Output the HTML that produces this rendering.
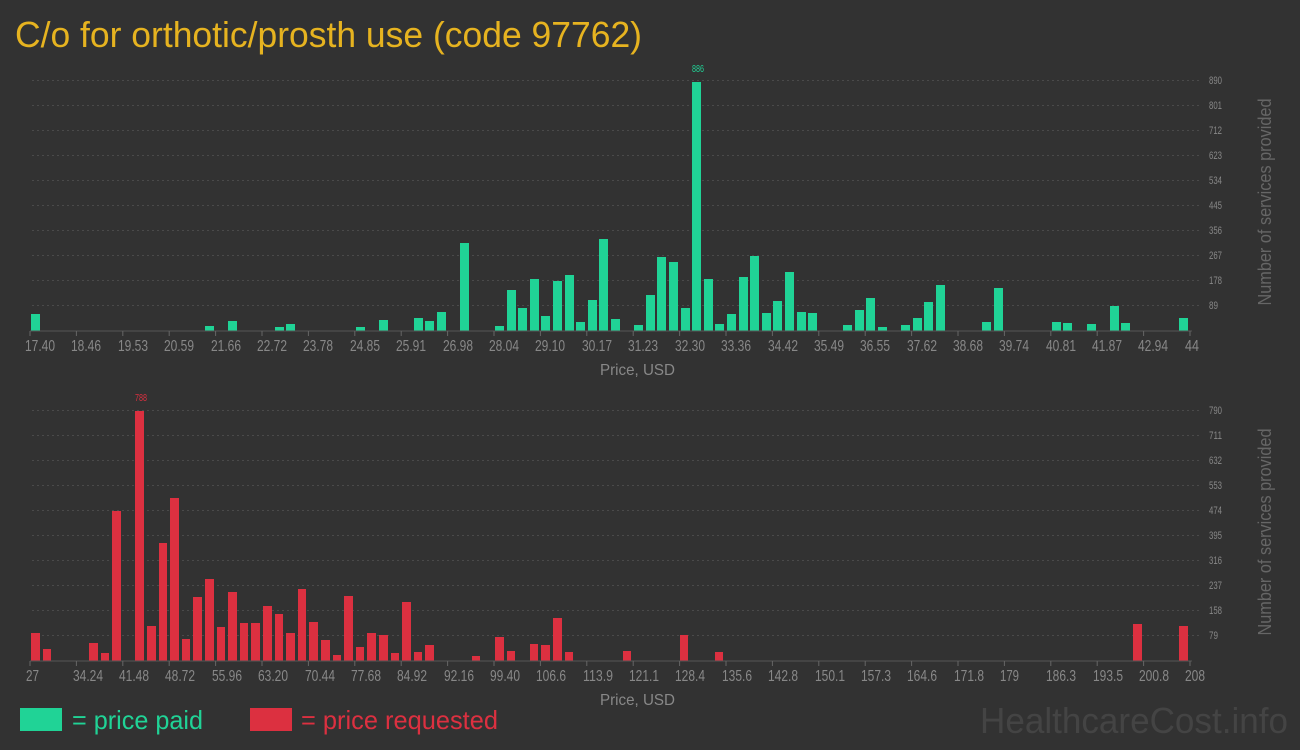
<!DOCTYPE html>
<html><head><meta charset="utf-8"><style>
html,body{margin:0;padding:0;background:#323232;}
svg{display:block;font-family:"Liberation Sans Narrow","Liberation Sans",sans-serif;}
</style></head><body>
<svg width="1300" height="750" viewBox="0 0 1300 750" xmlns="http://www.w3.org/2000/svg">
<rect width="1300" height="750" fill="#323232"/>
<text x="15" y="47" font-size="36" fill="#e6b320" textLength="627" lengthAdjust="spacingAndGlyphs">C/o for orthotic/prosth use (code 97762)</text>

<!-- TOP CHART -->
<g stroke="#4a4a4a" stroke-dasharray="2,3" stroke-width="1">
<line x1="32" x2="1200" y1="80.5" y2="80.5"/><line x1="32" x2="1200" y1="105.5" y2="105.5"/><line x1="32" x2="1200" y1="130.5" y2="130.5"/><line x1="32" x2="1200" y1="155.5" y2="155.5"/><line x1="32" x2="1200" y1="180.5" y2="180.5"/><line x1="32" x2="1200" y1="205.5" y2="205.5"/><line x1="32" x2="1200" y1="230.5" y2="230.5"/><line x1="32" x2="1200" y1="255.5" y2="255.5"/><line x1="32" x2="1200" y1="280.5" y2="280.5"/><line x1="32" x2="1200" y1="305.5" y2="305.5"/>
</g>
<g fill="#888" font-size="11">
<text x="1209" y="84" textLength="13" lengthAdjust="spacingAndGlyphs">890</text><text x="1209" y="109" textLength="13" lengthAdjust="spacingAndGlyphs">801</text><text x="1209" y="134" textLength="13" lengthAdjust="spacingAndGlyphs">712</text><text x="1209" y="159" textLength="13" lengthAdjust="spacingAndGlyphs">623</text><text x="1209" y="184" textLength="13" lengthAdjust="spacingAndGlyphs">534</text><text x="1209" y="209" textLength="13" lengthAdjust="spacingAndGlyphs">445</text><text x="1209" y="234" textLength="13" lengthAdjust="spacingAndGlyphs">356</text><text x="1209" y="259" textLength="13" lengthAdjust="spacingAndGlyphs">267</text><text x="1209" y="284" textLength="13" lengthAdjust="spacingAndGlyphs">178</text><text x="1209" y="309" textLength="9" lengthAdjust="spacingAndGlyphs">89</text>
</g>
<g fill="#20d396">
<rect x="31" y="314" width="9" height="17"/><rect x="205" y="326" width="9" height="5"/><rect x="228" y="321" width="9" height="10"/><rect x="275" y="327" width="9" height="4"/><rect x="286" y="324" width="9" height="7"/><rect x="356" y="327" width="9" height="4"/><rect x="379" y="320" width="9" height="11"/><rect x="414" y="318" width="9" height="13"/><rect x="425" y="321" width="9" height="10"/><rect x="437" y="312" width="9" height="19"/><rect x="460" y="243" width="9" height="88"/><rect x="495" y="326" width="9" height="5"/><rect x="507" y="290" width="9" height="41"/><rect x="518" y="308" width="9" height="23"/><rect x="530" y="279" width="9" height="52"/><rect x="541" y="316" width="9" height="15"/><rect x="553" y="281" width="9" height="50"/><rect x="565" y="275" width="9" height="56"/><rect x="576" y="322" width="9" height="9"/><rect x="588" y="300" width="9" height="31"/><rect x="599" y="239" width="9" height="92"/><rect x="611" y="319" width="9" height="12"/><rect x="634" y="325" width="9" height="6"/><rect x="646" y="295" width="9" height="36"/><rect x="657" y="257" width="9" height="74"/><rect x="669" y="262" width="9" height="69"/><rect x="681" y="308" width="9" height="23"/><rect x="692" y="82" width="9" height="249"/><rect x="704" y="279" width="9" height="52"/><rect x="715" y="324" width="9" height="7"/><rect x="727" y="314" width="9" height="17"/><rect x="739" y="277" width="9" height="54"/><rect x="750" y="256" width="9" height="75"/><rect x="762" y="313" width="9" height="18"/><rect x="773" y="301" width="9" height="30"/><rect x="785" y="272" width="9" height="59"/><rect x="797" y="312" width="9" height="19"/><rect x="808" y="313" width="9" height="18"/><rect x="843" y="325" width="9" height="6"/><rect x="855" y="310" width="9" height="21"/><rect x="866" y="298" width="9" height="33"/><rect x="878" y="327" width="9" height="4"/><rect x="901" y="325" width="9" height="6"/><rect x="913" y="318" width="9" height="13"/><rect x="924" y="302" width="9" height="29"/><rect x="936" y="285" width="9" height="46"/><rect x="982" y="322" width="9" height="9"/><rect x="994" y="288" width="9" height="43"/><rect x="1052" y="322" width="9" height="9"/><rect x="1063" y="323" width="9" height="8"/><rect x="1087" y="324" width="9" height="7"/><rect x="1110" y="306" width="9" height="25"/><rect x="1121" y="323" width="9" height="8"/><rect x="1179" y="318" width="9" height="13"/>
</g>
<text x="698" y="72" font-size="10" fill="#20d396" text-anchor="middle" textLength="12" lengthAdjust="spacingAndGlyphs">886</text>
<line x1="30" x2="1192" y1="331" y2="331" stroke="#555"/>
<g stroke="#666"><line x1="30" x2="30" y1="331" y2="336"/><line x1="76.4" x2="76.4" y1="331" y2="336"/><line x1="122.8" x2="122.8" y1="331" y2="336"/><line x1="169.2" x2="169.2" y1="331" y2="336"/><line x1="215.6" x2="215.6" y1="331" y2="336"/><line x1="262" x2="262" y1="331" y2="336"/><line x1="308.4" x2="308.4" y1="331" y2="336"/><line x1="354.8" x2="354.8" y1="331" y2="336"/><line x1="401.2" x2="401.2" y1="331" y2="336"/><line x1="447.6" x2="447.6" y1="331" y2="336"/><line x1="494" x2="494" y1="331" y2="336"/><line x1="540.4" x2="540.4" y1="331" y2="336"/><line x1="586.8" x2="586.8" y1="331" y2="336"/><line x1="633.2" x2="633.2" y1="331" y2="336"/><line x1="679.6" x2="679.6" y1="331" y2="336"/><line x1="726" x2="726" y1="331" y2="336"/><line x1="772.4" x2="772.4" y1="331" y2="336"/><line x1="818.8" x2="818.8" y1="331" y2="336"/><line x1="865.2" x2="865.2" y1="331" y2="336"/><line x1="911.6" x2="911.6" y1="331" y2="336"/><line x1="958" x2="958" y1="331" y2="336"/><line x1="1004.4" x2="1004.4" y1="331" y2="336"/><line x1="1050.8" x2="1050.8" y1="331" y2="336"/><line x1="1097.2" x2="1097.2" y1="331" y2="336"/><line x1="1143.6" x2="1143.6" y1="331" y2="336"/><line x1="1190" x2="1190" y1="331" y2="336"/></g>
<g fill="#888" font-size="16">
<text x="25" y="351" textLength="30" lengthAdjust="spacingAndGlyphs">17.40</text><text x="71" y="351" textLength="30" lengthAdjust="spacingAndGlyphs">18.46</text><text x="118" y="351" textLength="30" lengthAdjust="spacingAndGlyphs">19.53</text><text x="164" y="351" textLength="30" lengthAdjust="spacingAndGlyphs">20.59</text><text x="211" y="351" textLength="30" lengthAdjust="spacingAndGlyphs">21.66</text><text x="257" y="351" textLength="30" lengthAdjust="spacingAndGlyphs">22.72</text><text x="303" y="351" textLength="30" lengthAdjust="spacingAndGlyphs">23.78</text><text x="350" y="351" textLength="30" lengthAdjust="spacingAndGlyphs">24.85</text><text x="396" y="351" textLength="30" lengthAdjust="spacingAndGlyphs">25.91</text><text x="443" y="351" textLength="30" lengthAdjust="spacingAndGlyphs">26.98</text><text x="489" y="351" textLength="30" lengthAdjust="spacingAndGlyphs">28.04</text><text x="535" y="351" textLength="30" lengthAdjust="spacingAndGlyphs">29.10</text><text x="582" y="351" textLength="30" lengthAdjust="spacingAndGlyphs">30.17</text><text x="628" y="351" textLength="30" lengthAdjust="spacingAndGlyphs">31.23</text><text x="675" y="351" textLength="30" lengthAdjust="spacingAndGlyphs">32.30</text><text x="721" y="351" textLength="30" lengthAdjust="spacingAndGlyphs">33.36</text><text x="768" y="351" textLength="30" lengthAdjust="spacingAndGlyphs">34.42</text><text x="814" y="351" textLength="30" lengthAdjust="spacingAndGlyphs">35.49</text><text x="860" y="351" textLength="30" lengthAdjust="spacingAndGlyphs">36.55</text><text x="907" y="351" textLength="30" lengthAdjust="spacingAndGlyphs">37.62</text><text x="953" y="351" textLength="30" lengthAdjust="spacingAndGlyphs">38.68</text><text x="999" y="351" textLength="30" lengthAdjust="spacingAndGlyphs">39.74</text><text x="1046" y="351" textLength="30" lengthAdjust="spacingAndGlyphs">40.81</text><text x="1092" y="351" textLength="30" lengthAdjust="spacingAndGlyphs">41.87</text><text x="1138" y="351" textLength="30" lengthAdjust="spacingAndGlyphs">42.94</text><text x="1185" y="351" textLength="14" lengthAdjust="spacingAndGlyphs">44</text>
<text x="600" y="375" textLength="75" lengthAdjust="spacingAndGlyphs">Price, USD</text>
</g>
<text transform="translate(1271,202) rotate(-90)" font-size="18" fill="#666" text-anchor="middle" textLength="207" lengthAdjust="spacingAndGlyphs">Number of services provided</text>

<!-- BOTTOM CHART -->
<g stroke="#4a4a4a" stroke-dasharray="2,3" stroke-width="1">
<line x1="32" x2="1200" y1="410.5" y2="410.5"/><line x1="32" x2="1200" y1="435.5" y2="435.5"/><line x1="32" x2="1200" y1="460.5" y2="460.5"/><line x1="32" x2="1200" y1="485.5" y2="485.5"/><line x1="32" x2="1200" y1="510.5" y2="510.5"/><line x1="32" x2="1200" y1="535.5" y2="535.5"/><line x1="32" x2="1200" y1="560.5" y2="560.5"/><line x1="32" x2="1200" y1="585.5" y2="585.5"/><line x1="32" x2="1200" y1="610.5" y2="610.5"/><line x1="32" x2="1200" y1="635.5" y2="635.5"/>
</g>
<g fill="#888" font-size="11">
<text x="1209" y="414" textLength="13" lengthAdjust="spacingAndGlyphs">790</text><text x="1209" y="439" textLength="13" lengthAdjust="spacingAndGlyphs">711</text><text x="1209" y="464" textLength="13" lengthAdjust="spacingAndGlyphs">632</text><text x="1209" y="489" textLength="13" lengthAdjust="spacingAndGlyphs">553</text><text x="1209" y="514" textLength="13" lengthAdjust="spacingAndGlyphs">474</text><text x="1209" y="539" textLength="13" lengthAdjust="spacingAndGlyphs">395</text><text x="1209" y="564" textLength="13" lengthAdjust="spacingAndGlyphs">316</text><text x="1209" y="589" textLength="13" lengthAdjust="spacingAndGlyphs">237</text><text x="1209" y="614" textLength="13" lengthAdjust="spacingAndGlyphs">158</text><text x="1209" y="639" textLength="9" lengthAdjust="spacingAndGlyphs">79</text>
</g>
<g fill="#dc3040">
<rect x="31" y="633" width="9" height="28"/><rect x="43" y="649" width="8" height="12"/><rect x="89" y="643" width="9" height="18"/><rect x="101" y="653" width="8" height="8"/><rect x="112" y="511" width="9" height="150"/><rect x="135" y="411" width="9" height="250"/><rect x="147" y="626" width="9" height="35"/><rect x="159" y="543" width="8" height="118"/><rect x="170" y="498" width="9" height="163"/><rect x="182" y="639" width="8" height="22"/><rect x="193" y="597" width="9" height="64"/><rect x="205" y="579" width="9" height="82"/><rect x="217" y="627" width="8" height="34"/><rect x="228" y="592" width="9" height="69"/><rect x="240" y="623" width="8" height="38"/><rect x="251" y="623" width="9" height="38"/><rect x="263" y="606" width="9" height="55"/><rect x="275" y="614" width="8" height="47"/><rect x="286" y="633" width="9" height="28"/><rect x="298" y="589" width="8" height="72"/><rect x="309" y="622" width="9" height="39"/><rect x="321" y="640" width="9" height="21"/><rect x="333" y="655" width="8" height="6"/><rect x="344" y="596" width="9" height="65"/><rect x="356" y="647" width="8" height="14"/><rect x="367" y="633" width="9" height="28"/><rect x="379" y="635" width="9" height="26"/><rect x="391" y="653" width="8" height="8"/><rect x="402" y="602" width="9" height="59"/><rect x="414" y="652" width="8" height="9"/><rect x="425" y="645" width="9" height="16"/><rect x="472" y="656" width="8" height="5"/><rect x="495" y="637" width="9" height="24"/><rect x="507" y="651" width="8" height="10"/><rect x="530" y="644" width="8" height="17"/><rect x="541" y="645" width="9" height="16"/><rect x="553" y="618" width="9" height="43"/><rect x="565" y="652" width="8" height="9"/><rect x="623" y="651" width="8" height="10"/><rect x="680" y="635" width="8" height="26"/><rect x="715" y="652" width="8" height="9"/><rect x="1133" y="624" width="9" height="37"/><rect x="1179" y="626" width="9" height="35"/>
</g>
<text x="141" y="401" font-size="10" fill="#dc3040" text-anchor="middle" textLength="12" lengthAdjust="spacingAndGlyphs">788</text>
<line x1="30" x2="1192" y1="661" y2="661" stroke="#555"/>
<g stroke="#666"><line x1="30" x2="30" y1="661" y2="666"/><line x1="76.4" x2="76.4" y1="661" y2="666"/><line x1="122.8" x2="122.8" y1="661" y2="666"/><line x1="169.2" x2="169.2" y1="661" y2="666"/><line x1="215.6" x2="215.6" y1="661" y2="666"/><line x1="262" x2="262" y1="661" y2="666"/><line x1="308.4" x2="308.4" y1="661" y2="666"/><line x1="354.8" x2="354.8" y1="661" y2="666"/><line x1="401.2" x2="401.2" y1="661" y2="666"/><line x1="447.6" x2="447.6" y1="661" y2="666"/><line x1="494" x2="494" y1="661" y2="666"/><line x1="540.4" x2="540.4" y1="661" y2="666"/><line x1="586.8" x2="586.8" y1="661" y2="666"/><line x1="633.2" x2="633.2" y1="661" y2="666"/><line x1="679.6" x2="679.6" y1="661" y2="666"/><line x1="726" x2="726" y1="661" y2="666"/><line x1="772.4" x2="772.4" y1="661" y2="666"/><line x1="818.8" x2="818.8" y1="661" y2="666"/><line x1="865.2" x2="865.2" y1="661" y2="666"/><line x1="911.6" x2="911.6" y1="661" y2="666"/><line x1="958" x2="958" y1="661" y2="666"/><line x1="1004.4" x2="1004.4" y1="661" y2="666"/><line x1="1050.8" x2="1050.8" y1="661" y2="666"/><line x1="1097.2" x2="1097.2" y1="661" y2="666"/><line x1="1143.6" x2="1143.6" y1="661" y2="666"/><line x1="1190" x2="1190" y1="661" y2="666"/></g>
<g fill="#888" font-size="16">
<text x="26" y="681" textLength="13" lengthAdjust="spacingAndGlyphs">27</text><text x="73" y="681" textLength="30" lengthAdjust="spacingAndGlyphs">34.24</text><text x="119" y="681" textLength="30" lengthAdjust="spacingAndGlyphs">41.48</text><text x="165" y="681" textLength="30" lengthAdjust="spacingAndGlyphs">48.72</text><text x="212" y="681" textLength="30" lengthAdjust="spacingAndGlyphs">55.96</text><text x="258" y="681" textLength="30" lengthAdjust="spacingAndGlyphs">63.20</text><text x="305" y="681" textLength="30" lengthAdjust="spacingAndGlyphs">70.44</text><text x="351" y="681" textLength="30" lengthAdjust="spacingAndGlyphs">77.68</text><text x="397" y="681" textLength="30" lengthAdjust="spacingAndGlyphs">84.92</text><text x="444" y="681" textLength="30" lengthAdjust="spacingAndGlyphs">92.16</text><text x="490" y="681" textLength="30" lengthAdjust="spacingAndGlyphs">99.40</text><text x="536" y="681" textLength="30" lengthAdjust="spacingAndGlyphs">106.6</text><text x="583" y="681" textLength="30" lengthAdjust="spacingAndGlyphs">113.9</text><text x="629" y="681" textLength="30" lengthAdjust="spacingAndGlyphs">121.1</text><text x="675" y="681" textLength="30" lengthAdjust="spacingAndGlyphs">128.4</text><text x="722" y="681" textLength="30" lengthAdjust="spacingAndGlyphs">135.6</text><text x="768" y="681" textLength="30" lengthAdjust="spacingAndGlyphs">142.8</text><text x="815" y="681" textLength="30" lengthAdjust="spacingAndGlyphs">150.1</text><text x="861" y="681" textLength="30" lengthAdjust="spacingAndGlyphs">157.3</text><text x="907" y="681" textLength="30" lengthAdjust="spacingAndGlyphs">164.6</text><text x="954" y="681" textLength="30" lengthAdjust="spacingAndGlyphs">171.8</text><text x="1000" y="681" textLength="19" lengthAdjust="spacingAndGlyphs">179</text><text x="1046" y="681" textLength="30" lengthAdjust="spacingAndGlyphs">186.3</text><text x="1093" y="681" textLength="30" lengthAdjust="spacingAndGlyphs">193.5</text><text x="1139" y="681" textLength="30" lengthAdjust="spacingAndGlyphs">200.8</text><text x="1185" y="681" textLength="20" lengthAdjust="spacingAndGlyphs">208</text>
<text x="600" y="705" textLength="75" lengthAdjust="spacingAndGlyphs">Price, USD</text>
</g>
<text transform="translate(1271,532) rotate(-90)" font-size="18" fill="#666" text-anchor="middle" textLength="207" lengthAdjust="spacingAndGlyphs">Number of services provided</text>

<!-- LEGEND -->
<rect x="20" y="708" width="42" height="23" fill="#20d396"/>
<text x="72" y="729" font-size="26" fill="#20d396" textLength="131" lengthAdjust="spacingAndGlyphs">= price paid</text>
<rect x="250" y="708" width="42" height="23" fill="#dc3040"/>
<text x="301" y="729" font-size="26" fill="#dc3040" textLength="197" lengthAdjust="spacingAndGlyphs">= price requested</text>
<text x="980" y="733" font-size="36" fill="#444" textLength="308" lengthAdjust="spacingAndGlyphs">HealthcareCost.info</text>
</svg>
</body></html>
